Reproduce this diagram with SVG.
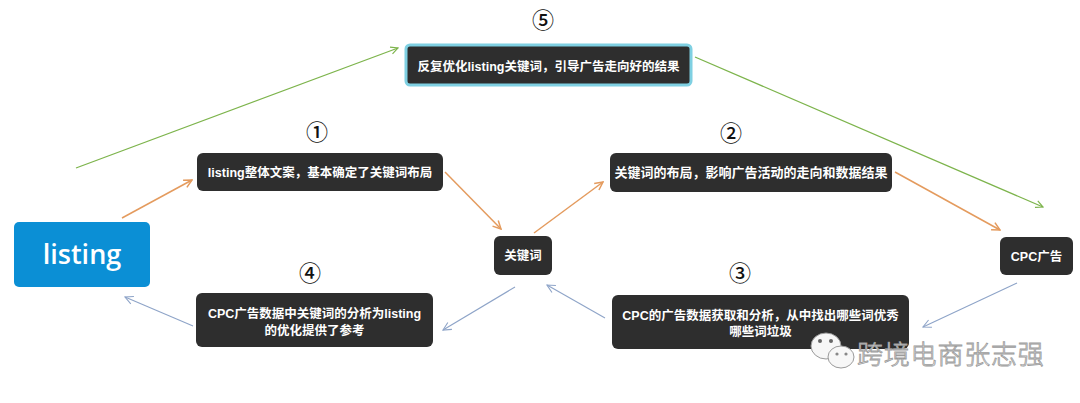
<svg xmlns="http://www.w3.org/2000/svg" width="1080" height="403" viewBox="0 0 1080 403">
<style>
.box{fill:#2e2e2e;}
.t{fill:#ffffff;font-family:"Liberation Sans","Noto Sans CJK SC",sans-serif;font-weight:bold;font-size:12.5px;text-anchor:middle;}
.num{fill:#111;font-family:"Noto Sans CJK SC","DejaVu Sans",sans-serif;font-size:22px;font-weight:500;text-anchor:middle;}
.g{stroke:#7db44c;stroke-width:1.3;fill:none;}
.o{stroke:#e49b5e;stroke-width:1.5;fill:none;}
.b{stroke:#8ea4c8;stroke-width:1.1;fill:none;}
.wm{fill:#f7f7f7;stroke:#9a9a9a;stroke-width:0.8;font-family:"Noto Sans CJK SC",sans-serif;font-weight:300;font-size:26px;letter-spacing:0.8px;}
</style>
<defs>
<marker id="ag" viewBox="0 0 10 10" refX="9" refY="5" markerWidth="9" markerHeight="9" markerUnits="userSpaceOnUse" orient="auto"><path d="M1,1 L9,5 L1,9" fill="none" stroke="#7db44c" stroke-width="1.3"/></marker>
<marker id="ao" viewBox="0 0 10 10" refX="9" refY="5" markerWidth="10" markerHeight="10" markerUnits="userSpaceOnUse" orient="auto"><path d="M1,1 L9,5 L1,9" fill="none" stroke="#e49b5e" stroke-width="1.5"/></marker>
<marker id="ab" viewBox="0 0 10 10" refX="9" refY="5" markerWidth="10" markerHeight="10" markerUnits="userSpaceOnUse" orient="auto"><path d="M1,1 L9,5 L1,9" fill="none" stroke="#8ea4c8" stroke-width="1.1"/></marker>
</defs>
<rect width="1080" height="403" fill="#ffffff"/>

<g id="connectors">
<line class="g" x1="76" y1="168" x2="398" y2="48" marker-end="url(#ag)"/>
<line class="g" x1="695" y1="57" x2="1043" y2="207" marker-end="url(#ag)"/>
<line class="o" x1="122" y1="218" x2="192" y2="180" marker-end="url(#ao)"/>
<line class="o" x1="445" y1="172" x2="501" y2="229" marker-end="url(#ao)"/>
<line class="o" x1="534" y1="233" x2="603" y2="182" marker-end="url(#ao)"/>
<line class="o" x1="895" y1="172" x2="1000" y2="230" marker-end="url(#ao)"/>
<line class="b" x1="1017" y1="283" x2="923" y2="327" marker-end="url(#ab)"/>
<line class="b" x1="605" y1="318" x2="547" y2="285" marker-end="url(#ab)"/>
<line class="b" x1="515" y1="287" x2="443" y2="330" marker-end="url(#ab)"/>
<line class="b" x1="193" y1="326" x2="125" y2="297" marker-end="url(#ab)"/>
</g>

<g id="listing">
<rect x="14" y="222" width="136" height="65" rx="5" fill="#0b8fd5"/>
<text x="82" y="264" fill="#ffffff" font-family="'Open Sans','Liberation Sans',sans-serif" font-weight="600" font-size="27" text-anchor="middle">listing</text>
</g>

<g id="n5">
<text class="num" x="543" y="28">⑤</text>
<rect class="box" x="406" y="45" width="285" height="40" rx="4" stroke="#7fd0e2" stroke-width="3"/>
<text class="t" x="548.5" y="70.5">反复优化listing关键词，引导广告走向好的结果</text>
</g>

<g id="n1">
<text class="num" x="317" y="140">①</text>
<rect class="box" x="197" y="153" width="246" height="38" rx="6"/>
<text class="t" x="320" y="177">listing整体文案，基本确定了关键词布局</text>
</g>

<g id="n2">
<text class="num" x="731" y="141">②</text>
<rect class="box" x="610" y="153" width="282" height="39" rx="6"/>
<text class="t" x="751" y="177" style="font-size:13px">关键词的布局，影响广告活动的走向和数据结果</text>
</g>

<g id="keyword">
<rect class="box" x="494" y="236" width="58" height="39" rx="6"/>
<text class="t" x="523" y="260">关键词</text>
</g>

<g id="cpc">
<rect class="box" x="1000" y="237" width="73" height="38" rx="6"/>
<text class="t" x="1036.5" y="261">CPC广告</text>
</g>

<g id="n3">
<text class="num" x="740" y="281">③</text>
<rect class="box" x="612" y="295" width="297" height="54" rx="6"/>
<text class="t" x="760.5" y="319.5">CPC的广告数据获取和分析，从中找出哪些词优秀</text>
<text class="t" x="760.5" y="335.5">哪些词垃圾</text>
</g>

<g id="n4">
<text class="num" x="310" y="281">④</text>
<rect class="box" x="196" y="293" width="237" height="54" rx="6"/>
<text class="t" x="314.5" y="317.5">CPC广告数据中关键词的分析为listing</text>
<text class="t" x="314.5" y="334.5">的优化提供了参考</text>
</g>

<g id="watermark">
<ellipse cx="826" cy="346" rx="15" ry="13" fill="#f7f7f7" stroke="#9a9a9a" stroke-width="1"/>
<circle cx="820" cy="341" r="2" fill="#666"/>
<circle cx="831" cy="341" r="2" fill="#666"/>
<ellipse cx="841" cy="357" rx="13" ry="11" fill="#f7f7f7" stroke="#9a9a9a" stroke-width="1"/>
<circle cx="837" cy="354" r="1.6" fill="#888"/>
<circle cx="846" cy="354" r="1.6" fill="#888"/>
<text class="wm" x="857" y="364">跨境电商张志强</text>
</g>
</svg>
